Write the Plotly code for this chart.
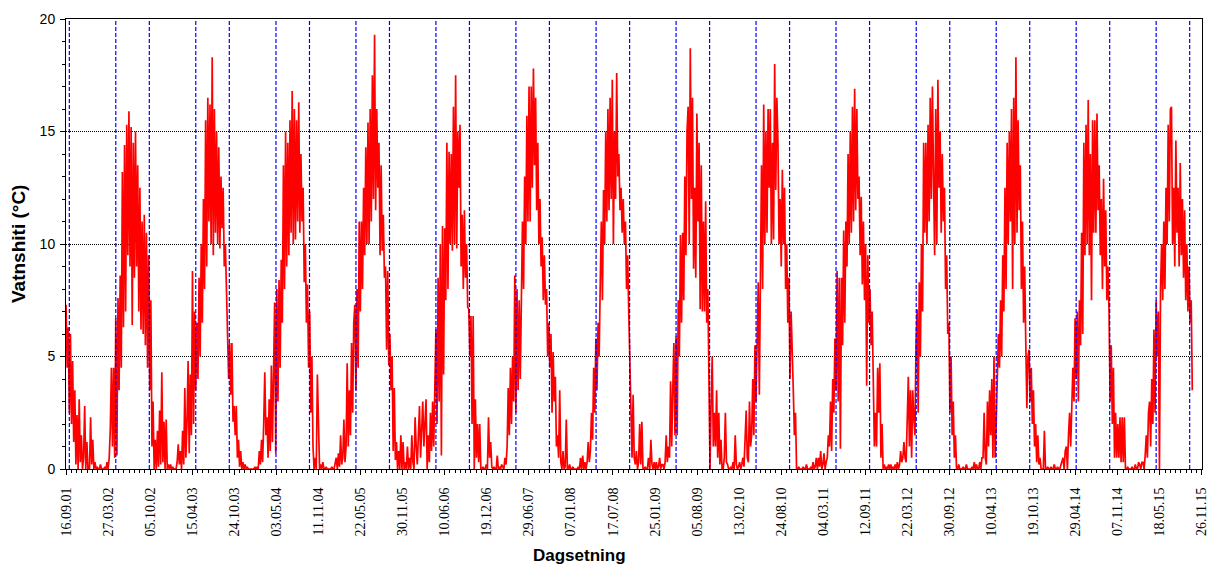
import pandas as pd
import plotly.graph_objects as go

# ---------------- data (5-day steps) ----------------
tick_labels = ["16.09.01", "27.03.02", "05.10.02", "15.04.03", "24.10.03", "03.05.04",
               "11.11.04", "22.05.05", "30.11.05", "10.06.06", "19.12.06", "29.06.07",
               "07.01.08", "17.07.08", "25.01.09", "05.08.09", "13.02.10", "24.08.10",
               "04.03.11", "12.09.11", "22.03.12", "30.09.12", "10.04.13", "19.10.13",
               "29.04.14", "07.11.14", "18.05.15", "26.11.15"]
y_ticks = [0, 5, 10, 15, 20]
season_years = list(range(2001, 2016))   # blue lines: 1 May and 1 Oct

t2001 = [7.3, 4.5, 6.3, 2.5, 6.0, 2.0, 4.8, 1.2, 3.5, 0.2, 2.4, 0.0, 3.1, 0.3, 1.5, 0.0,
         0.5, 2.8, 0.0, 1.2, 0.0]
t2002 = [0.0, 2.3, 0.2, 1.3, 0.0, 0.3, 0.0, 0.1, 0.0, 0.0, 0.2, 0.0,
         0.0, 0.0, 0.1, 0.0, 0.3, 0.0, 0.5, 1.8, 4.5, 1.0, 4.5, 0.5,
         6.7, 0.6, 7.6, 3.5, 8.6, 4.5, 13.2, 6.3, 14.4, 7.0, 15.3, 9.5,
         15.9, 9.0, 15.2, 6.4, 14.5, 8.5, 15.0, 9.0, 13.5, 7.0, 12.5, 6.2,
         11.0, 6.0, 11.3, 5.5, 10.5, 4.5, 9.5, 3.5, 7.5, 1.0, 3.0, 0.0,
         1.3, 0.0, 1.7, 0.1, 2.6, 0.2, 4.3, 0.3, 2.1, 0.0, 2.2, 0.0, 0.2]
t2003 = [0.0, 0.2, 0.0, 0.1, 0.0, 0.0, 0.0, 0.3, 1.1, 0.2, 0.8, 0.0,
         1.7, 0.2, 3.6, 0.5, 2.1, 4.8, 0.7, 4.2, 1.5, 8.8, 2.0, 7.0,
         3.5, 6.5, 4.0, 8.5, 5.0, 10.0, 6.5, 12.0, 8.0, 15.5, 9.0, 16.5,
         11.0, 16.2, 10.0, 18.3, 9.5, 16.0, 10.5, 15.0, 10.0, 14.3, 9.8, 13.0,
         10.7, 12.5, 9.0, 10.0, 8.2, 6.5, 4.0, 5.6, 3.3, 5.6, 2.1, 2.8,
         1.5, 2.8, 0.5, 1.3, 0.1, 0.8, 0.0, 0.3, 0.0, 0.2, 0.0, 0.1, 0.0]
t2004 = [0.0, 0.0, 0.0, 0.0, 0.0, 0.1, 0.0, 0.1, 0.0, 0.8, 0.2, 1.3,
         0.3, 2.0, 4.3, 1.5, 2.3, 0.5, 3.1, 0.8, 4.6, 1.2, 5.4, 7.4,
         0.7, 8.0, 3.0, 8.4, 4.5, 9.3, 6.5, 13.5, 8.0, 15.0, 9.0, 14.5,
         9.5, 15.5, 10.5, 16.8, 10.0, 16.0, 10.2, 15.5, 11.0, 16.3, 10.5, 14.0,
         11.0, 12.5, 8.3, 10.0, 6.5, 8.2, 4.5, 7.0, 2.5, 5.0, 1.0, 0.0,
         0.5, 0.0, 4.2, 1.8, 0.0, 0.2, 0.0, 0.3, 0.0, 0.0, 0.1, 0.0, 0.0]
t2005 = [0.0, 0.0, 0.1, 0.0, 0.0, 0.2, 0.5, 0.0, 0.7, 0.1, 1.5, 0.2,
         0.5, 2.2, 0.3, 1.0, 4.7, 1.0, 3.5, 1.5, 5.6, 2.5, 6.5, 7.3,
         3.5, 8.0, 4.5, 11.0, 7.0, 11.0, 8.0, 12.5, 9.5, 14.3, 10.0, 15.4,
         10.0, 16.0, 11.0, 17.5, 12.0, 19.3, 11.5, 16.0, 12.5, 14.5, 9.5, 13.5,
         9.7, 11.3, 8.5, 9.0, 5.3, 8.8, 4.6, 6.0, 3.5, 5.0, 0.8, 3.6,
         0.4, 1.2, 0.0, 0.8, 0.0, 1.5, 0.0, 1.2, 0.0, 0.3, 0.0, 1.0, 0.0]
t2006 = [0.5, 0.0, 1.5, 0.3, 0.0, 2.3, 1.0, 0.2, 1.5, 2.8, 0.5, 2.0,
         3.0, 1.0, 2.0, 3.1, 0.0, 1.5, 0.3, 2.5, 0.8, 3.0, 1.0, 3.4,
         6.2, 2.0, 8.5, 3.0, 10.0, 0.6, 10.8, 4.2, 10.7, 7.5, 14.5, 8.0,
         14.1, 10.0, 14.0, 9.7, 16.1, 10.0, 17.5, 9.8, 15.0, 12.5, 15.3, 9.0,
         11.3, 8.0, 11.5, 8.5, 10.0, 7.2, 7.1, 5.0, 6.8, 2.0, 6.8, 0.0,
         3.1, 0.5, 2.0, 0.3, 2.0, 0.0, 0.0, 0.1, 0.0, 0.0, 0.2, 0.0, 2.3]
t2007 = [0.5, 1.2, 0.1, 0.0, 0.1, 0.0, 0.0, 0.6, 0.0, 0.1, 0.0, 0.2,
         0.1, 0.0, 0.5, 0.2, 1.0, 3.6, 1.5, 4.5, 2.0, 5.0, 3.0, 8.6,
         2.5, 8.0, 3.5, 7.5, 4.0, 8.5, 11.0, 8.0, 13.0, 10.0, 15.7, 11.0,
         17.0, 11.0, 17.0, 12.5, 17.8, 13.5, 16.5, 11.5, 14.5, 10.0, 12.0, 9.0,
         10.3, 7.5, 9.5, 7.3, 8.0, 5.0, 6.5, 4.5, 6.0, 2.5, 5.2, 3.0,
         4.1, 1.0, 1.5, 0.5, 3.5, 0.3, 0.0, 0.8, 0.0, 0.1, 2.2, 0.0, 0.0]
t2008 = [0.2, 0.0, 0.0, 0.1, 0.0, 0.0, 0.0, 0.0, 0.1, 0.0, 0.5, 0.0,
         0.6, 0.0, 0.3, 0.0, 0.3, 1.2, 0.3, 0.8, 2.5, 1.3, 4.5, 2.5,
         5.8, 3.5, 6.5, 5.0, 8.3, 11.0, 7.5, 12.4, 10.0, 15.0, 11.0, 16.0,
         11.5, 16.5, 12.0, 17.3, 10.0, 15.0, 12.0, 17.6, 13.0, 14.0, 11.5, 12.5,
         10.5, 12.0, 10.0, 11.0, 8.0, 9.5, 7.0, 4.5, 3.3, 0.5, 3.3, 0.5,
         0.2, 0.8, 0.0, 0.3, 2.0, 0.2, 2.1, 0.0, 0.0, 0.1, 0.0, 0.0, 0.5]
t2009 = [0.0, 1.3, 0.2, 0.0, 0.3, 0.0, 0.3, 0.0, 0.1, 0.5, 0.0, 0.2,
         0.2, 0.0, 0.3, 1.5, 0.3, 1.0, 0.5, 3.9, 1.0, 3.5, 5.6, 1.5,
         5.9, 1.5, 7.5, 5.0, 10.4, 6.5, 10.5, 7.5, 13.0, 9.5, 15.0, 16.1,
         10.0, 18.7, 12.0, 16.5, 8.9, 12.5, 8.5, 15.8, 11.0, 14.5, 7.1, 13.5,
         7.0, 11.0, 7.0, 11.9, 6.5, 8.0, 4.5, 0.0, 3.0, 5.0, 1.0, 2.5,
         1.0, 3.5, 0.5, 2.5, 0.2, 1.3, 0.0, 0.0, 0.5, 2.5, 0.3, 0.2, 0.0]
t2010 = [0.0, 0.1, 0.0, 0.3, 0.0, 1.5, 0.2, 0.0, 0.1, 0.3, 0.0, 0.2,
         0.5, 0.1, 1.5, 2.6, 0.5, 0.3, 3.0, 1.0, 1.5, 4.0, 1.5, 5.5,
         3.0, 6.0, 8.3, 3.3, 8.5, 13.5, 8.0, 16.2, 10.0, 15.0, 10.5, 16.0,
         12.5, 16.0, 10.0, 14.5, 10.2, 18.0, 12.4, 16.5, 14.5, 10.0, 12.0, 9.0,
         13.3, 10.0, 12.5, 8.0, 10.0, 6.5, 8.5, 4.0, 7.0, 4.5, 3.5, 1.5,
         2.5, 0.0, 0.0, 0.1, 0.0, 0.0, 0.0, 0.1, 0.0, 0.0, 0.2, 0.0, 0.0]
t2011 = [0.0, 0.1, 0.0, 0.3, 0.0, 0.1, 0.5, 0.0, 0.5, 0.1, 0.8, 0.0,
         0.2, 0.7, 0.0, 0.3, 0.5, 1.5, 1.0, 3.0, 0.8, 4.0, 2.5, 5.8,
         3.5, 8.8, 3.0, 8.5, 0.9, 8.5, 5.5, 10.6, 6.5, 11.0, 9.0, 14.0,
         10.0, 15.0, 10.5, 16.1, 11.0, 16.9, 11.5, 16.0, 12.0, 13.0, 9.5, 12.1,
         8.2, 11.0, 7.5, 10.0, 3.7, 9.5, 6.5, 8.0, 5.5, 7.0, 4.0, 1.0,
         2.5, 1.0, 4.5, 2.5, 4.7, 0.5, 2.0, 0.0, 0.2, 0.0, 0.1, 0.0, 0.2]
t2012 = [0.0, 0.2, 0.0, 0.1, 0.0, 0.2, 0.0, 0.3, 0.0, 0.2, 0.8, 0.3,
         0.5, 1.2, 0.5, 0.3, 2.0, 4.1, 1.0, 3.5, 0.5, 3.5, 2.3, 1.5,
         5.5, 7.1, 2.5, 8.3, 5.0, 10.0, 7.0, 14.5, 10.5, 14.5, 10.0, 15.3,
         11.0, 16.5, 12.0, 17.0, 13.0, 9.5, 16.0, 10.0, 17.3, 12.5, 15.0, 10.5,
         14.0, 11.0, 12.5, 8.0, 9.5, 6.0, 6.5, 2.5, 5.0, 1.5, 3.0, 0.5,
         1.5, 0.0, 0.0, 0.2, 0.0, 0.0, 0.0, 0.1, 0.0, 0.0, 0.2, 0.0, 0.0]
t2013 = [0.0, 0.0, 0.1, 0.0, 0.3, 0.0, 0.2, 0.0, 0.0, 0.3, 0.0, 0.5,
         0.5, 2.5, 0.5, 0.2, 3.0, 1.0, 3.5, 1.5, 4.0, 0.5, 5.0, 0.5,
         2.0, 4.2, 6.0, 4.5, 7.5, 5.0, 9.5, 7.0, 12.5, 8.0, 14.5, 10.0,
         15.0, 11.0, 16.0, 8.0, 16.5, 10.0, 18.3, 10.5, 15.5, 11.5, 13.5, 8.0,
         11.0, 6.5, 9.0, 5.6, 2.7, 5.0, 5.3, 3.0, 4.5, 2.0, 3.5, 1.0,
         2.0, 0.3, 1.5, 0.2, 0.5, 0.0, 0.0, 0.0, 1.7, 0.0, 0.0, 0.1, 0.0]
t2014 = [0.0, 0.1, 0.0, 0.0, 0.2, 0.0, 0.0, 0.1, 0.0, 0.0, 0.2, 0.3,
         0.5, 0.0, 0.8, 1.0, 0.0, 1.5, 2.5, 1.0, 3.5, 4.5, 3.0, 6.7,
         4.0, 7.0, 3.0, 7.5, 5.5, 10.5, 6.0, 14.5, 9.5, 15.3, 10.0, 16.4,
         9.5, 14.0, 7.5, 15.5, 10.5, 15.5, 10.5, 15.8, 11.5, 13.5, 9.5, 12.0,
         8.0, 12.9, 9.0, 11.5, 7.5, 9.0, 7.0, 3.0, 5.5, 2.0, 4.5, 0.5,
         2.5, 0.5, 2.0, 0.5, 2.3, 0.3, 2.3, 0.3, 2.3, 0.0, 0.0, 0.1, 0.0]
t2015 = [0.0, 0.0, 0.1, 0.0, 0.0, 0.2, 0.0, 0.0, 0.3, 0.2, 0.0, 0.3,
         0.3, 0.0, 0.6, 1.5, 0.5, 2.5, 3.0, 1.0, 4.0, 2.0, 6.2, 2.5,
         7.5, 5.0, 7.0, 0.0, 8.0, 10.0, 7.5, 11.0, 8.0, 12.5, 10.0, 15.3,
         11.0, 16.0, 16.1, 10.0, 12.5, 9.0, 14.6, 10.5, 12.5, 9.0, 13.6, 9.5,
         12.0, 8.5, 11.5, 7.5, 10.0, 7.0, 9.0, 6.5, 7.5, 3.5]

segments = [("2001-09-16", t2001), ("2002-01-01", t2002), ("2003-01-01", t2003),
            ("2004-01-01", t2004), ("2005-01-01", t2005), ("2006-01-01", t2006),
            ("2007-01-01", t2007), ("2008-01-01", t2008), ("2009-01-01", t2009),
            ("2010-01-01", t2010), ("2011-01-01", t2011), ("2012-01-01", t2012),
            ("2013-01-01", t2013), ("2014-01-01", t2014), ("2015-01-01", t2015)]

# ---------------- build ----------------
xs, ys = [], []
for start, vals in segments:
    d = pd.date_range(start, periods=len(vals), freq="5D")
    xs.extend(d)
    ys.extend(vals)

tickvals = list(pd.to_datetime(tick_labels, format="%d.%m.%y"))
minor_vals = []
for a, b in zip(tickvals[:-1], tickvals[1:]):
    for k in range(1, 8):
        minor_vals.append(a + (b - a) * k / 8)

season_dates = []
for yr in season_years:
    if yr > 2001:
        season_dates.append(pd.Timestamp(f"{yr}-05-01"))
    season_dates.append(pd.Timestamp(f"{yr}-10-01"))

x_range = [tickvals[0] - pd.Timedelta(hours=6), tickvals[-1] + pd.Timedelta(hours=6)]

fig = go.Figure()
fig.add_trace(go.Scatter(x=xs, y=ys, mode="lines",
                         line=dict(color="#FF0000", width=1.7),
                         hoverinfo="skip", showlegend=False))

for d in season_dates:
    fig.add_shape(type="line", x0=d, x1=d, y0=0, y1=1, xref="x", yref="paper",
                  line=dict(color="#0000FF", width=1.2, dash="4px,2px"), layer="above")

fig.update_layout(
    width=1208, height=565,
    margin=dict(l=66, r=6, t=19, b=96, autoexpand=False),
    paper_bgcolor="white", plot_bgcolor="white",
    showlegend=False,
    xaxis=dict(
        type="date",
        range=x_range,
        tickmode="array", tickvals=tickvals, ticktext=tick_labels,
        tickangle=-90,
        tickfont=dict(family="Liberation Serif", size=14, color="black"),
        ticks="outside", ticklen=5, tickwidth=1, tickcolor="black",
        minor=dict(tickvals=minor_vals, ticks="outside", ticklen=3,
                   tickcolor="black", showgrid=False),
        showgrid=False, zeroline=False,
        showline=True, linecolor="black", linewidth=1, mirror=True,
        layer="below traces",
        automargin=False,
        ticklabeloverflow="allow",
        ticklabelstandoff=7,
    ),
    yaxis=dict(
        range=[0, 20],
        tickmode="array", tickvals=y_ticks,
        tickfont=dict(family="Liberation Sans", size=14, color="black"),
        ticks="outside", ticklen=5, tickwidth=1, tickcolor="black",
        minor=dict(dtick=1, ticks="outside", ticklen=3, tickcolor="black",
                   showgrid=False),
        showgrid=True, gridcolor="black", gridwidth=1, griddash="1px,1px",
        zeroline=False,
        showline=True, linecolor="black", linewidth=1, mirror=True,
        automargin=False,
        ticklabelstandoff=2,
    ),
    annotations=[
        dict(text="<b>Vatnshiti (°C)</b>", xref="paper", yref="paper",
             x=0, y=0.5, xshift=-48, textangle=-90, showarrow=False,
             xanchor="center", yanchor="middle",
             font=dict(family="Liberation Sans", size=19, color="black")),
        dict(text="<b>Dagsetning</b>", xref="paper", yref="paper",
             x=0.452, y=0, yshift=-86, showarrow=False,
             xanchor="center", yanchor="middle",
             font=dict(family="Liberation Sans", size=17, color="black")),
    ],
)

fig.write_html("out.html",
               config={"displayModeBar": False},
               post_script="document.body.style.margin='0';document.body.style.overflow='hidden';")
